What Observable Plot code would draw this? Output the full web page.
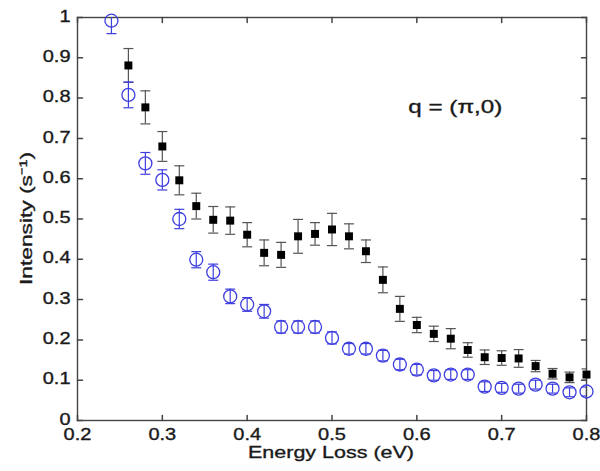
<!DOCTYPE html>
<html><head><meta charset="utf-8">
<script src="https://cdn.jsdelivr.net/npm/d3@7"></script>
<script src="https://cdn.jsdelivr.net/npm/@observablehq/plot@0.6"></script>
<style>body{margin:0;background:#fff;} #chart svg{display:block;} #chart svg text{stroke:#1a1a1a;stroke-width:0.35px;}</style>
</head><body><div id="chart"></div>
<script>
// Black squares
const blackEnergy = [0.26,0.28,0.30,0.32,0.34,0.36,0.38,0.40,0.42,0.44,0.46,0.48,0.50,0.52,0.54,0.56,0.58,0.60,0.62,0.64,0.66,0.68,0.70,0.72,0.74,0.76,0.78,0.80];
const blackIntensity = [0.881,0.777,0.68,0.596,0.532,0.498,0.496,0.461,0.416,0.411,0.457,0.463,0.474,0.457,0.42,0.349,0.277,0.237,0.215,0.203,0.175,0.157,0.155,0.154,0.135,0.116,0.107,0.114];
const blackError = [0.042,0.041,0.037,0.036,0.032,0.033,0.034,0.03,0.032,0.031,0.042,0.028,0.04,0.031,0.028,0.032,0.031,0.019,0.019,0.025,0.018,0.018,0.018,0.022,0.014,0.013,0.013,0.014];
// Blue open circles
const blueEnergy = [0.24,0.26,0.28,0.30,0.32,0.34,0.36,0.38,0.40,0.42,0.44,0.46,0.48,0.50,0.52,0.54,0.56,0.58,0.60,0.62,0.64,0.66,0.68,0.70,0.72,0.74,0.76,0.78,0.80];
const blueIntensity = [0.992,0.808,0.638,0.597,0.5,0.399,0.368,0.308,0.288,0.271,0.232,0.232,0.232,0.205,0.178,0.178,0.161,0.139,0.126,0.112,0.114,0.114,0.084,0.081,0.079,0.089,0.079,0.07,0.072];
const blueError = [0.032,0.032,0.027,0.025,0.024,0.02,0.02,0.018,0.017,0.017,0.015,0.015,0.015,0.015,0.013,0.013,0.013,0.013,0.013,0.012,0.012,0.012,0.012,0.011,0.011,0.011,0.011,0.011,0.011];
// Axes
const xTicks = [0.2,0.3,0.4,0.5,0.6,0.7,0.8];
const yTicks = [0,0.1,0.2,0.3,0.4,0.5,0.6,0.7,0.8,0.9,1];
const xLabel = "Energy Loss (eV)";
const yLabel = "Intensity (s\u207B\u00B9)";
const annotationText = "q = (\u03C0,0)";
const annotation = [{x: 0.59, y: 0.777, text: annotationText}];

const black = blackEnergy.map((x, i) => ({x, y: blackIntensity[i], e: blackError[i]}));
const blue = blueEnergy.map((x, i) => ({x, y: blueIntensity[i], e: blueError[i]}));

const capSymbol = {draw(ctx, size) { const w = Math.sqrt(size / Math.PI); ctx.moveTo(-w, 0); ctx.lineTo(w, 0); }};
const tickShape = {draw(ctx, l) { ctx.moveTo(0, 0); ctx.lineTo(0, -l); }};
const blueColor = "#3f3fe0";
const barGray = "#555";
const tickColor = "#444";
const xMin = xTicks[0], xMax = xTicks[xTicks.length - 1];
const yMin = yTicks[0], yMax = yTicks[yTicks.length - 1];

const chart = Plot.plot({
  width: 600, height: 471,
  marginLeft: 77, marginRight: 14, marginTop: 17, marginBottom: 51,
  style: {fontFamily: "'Liberation Sans', Arial, sans-serif", background: "#fff", color: "#1a1a1a"},
  x: {domain: [xMin, xMax]},
  y: {domain: [yMin, yMax]},
  marks: [
    // inward ticks on all four sides
    Plot.vector(xTicks, {x: d => d, y: yMin, length: 5, rotate: 0, anchor: "start", shape: tickShape, stroke: tickColor}),
    Plot.vector(xTicks, {x: d => d, y: yMax, length: 5, rotate: 180, anchor: "start", shape: tickShape, stroke: tickColor}),
    Plot.vector(yTicks, {x: xMin, y: d => d, length: 5, rotate: 90, anchor: "start", shape: tickShape, stroke: tickColor}),
    Plot.vector(yTicks, {x: xMax, y: d => d, length: 5, rotate: -90, anchor: "start", shape: tickShape, stroke: tickColor}),
    // tick labels
    Plot.axisX(xTicks, {anchor: "bottom", tickSize: 0, tickPadding: 8, fontSize: 16, tickFormat: d => String(d), label: null}),
    Plot.axisY(yTicks, {anchor: "left", tickSize: 0, tickPadding: 7, dy: -1, fontSize: 16, tickFormat: d => String(d), label: null}),
    // axis titles (start-anchored, then stretched to the reference width)
    Plot.text([xLabel], {frameAnchor: "bottom", dx: -84, dy: 32, fontSize: 17, text: d => d, textAnchor: "start", lineAnchor: "middle"}),
    Plot.text([yLabel], {frameAnchor: "left", dx: -51, dy: 66, rotate: -90, fontSize: 17, text: d => d, textAnchor: "start", lineAnchor: "middle"}),
    Plot.frame({stroke: "#444", strokeWidth: 1.4}),
    // black error bars
    Plot.ruleX(black, {x: "x", y1: d => d.y - d.e, y2: d => d.y + d.e, stroke: barGray, strokeWidth: 1.2, clip: true}),
    Plot.dot(black, {x: "x", y: d => d.y + d.e, symbol: capSymbol, r: 5, stroke: barGray, strokeWidth: 1.2, clip: true}),
    Plot.dot(black, {x: "x", y: d => d.y - d.e, symbol: capSymbol, r: 5, stroke: barGray, strokeWidth: 1.2, clip: true}),
    Plot.dot(black, {x: "x", y: "y", symbol: "square", r: 4.5, fill: "#000", stroke: "none"}),
    // blue error bars
    Plot.ruleX(blue, {x: "x", y1: d => d.y - d.e, y2: d => d.y + d.e, stroke: blueColor, strokeWidth: 1.2, clip: true}),
    Plot.dot(blue, {x: "x", y: d => d.y + d.e, symbol: capSymbol, r: 5, stroke: blueColor, strokeWidth: 1.2, clip: true}),
    Plot.dot(blue, {x: "x", y: d => d.y - d.e, symbol: capSymbol, r: 5, stroke: blueColor, strokeWidth: 1.2, clip: true}),
    Plot.dot(blue, {x: "x", y: "y", r: 6.5, stroke: blueColor, strokeWidth: 1.3, fill: "none"}),
    // annotation
    Plot.text(annotation, {x: "x", y: "y", text: "text", fontSize: 19, textAnchor: "start", fill: "#1a1a1a"})
  ]
});
document.getElementById("chart").appendChild(chart);
// emulate the horizontally wide lettering of the reference
const targetLength = {[xLabel]: 166, [yLabel]: 133, [annotationText]: 94};
chart.querySelectorAll("text").forEach(t => {
  const len = t.getComputedTextLength();
  if (len > 0) {
    const target = targetLength[t.textContent] ?? len * 1.25;
    t.setAttribute("textLength", target.toFixed(1));
    t.setAttribute("lengthAdjust", "spacingAndGlyphs");
  }
});
</script>
</body></html>
